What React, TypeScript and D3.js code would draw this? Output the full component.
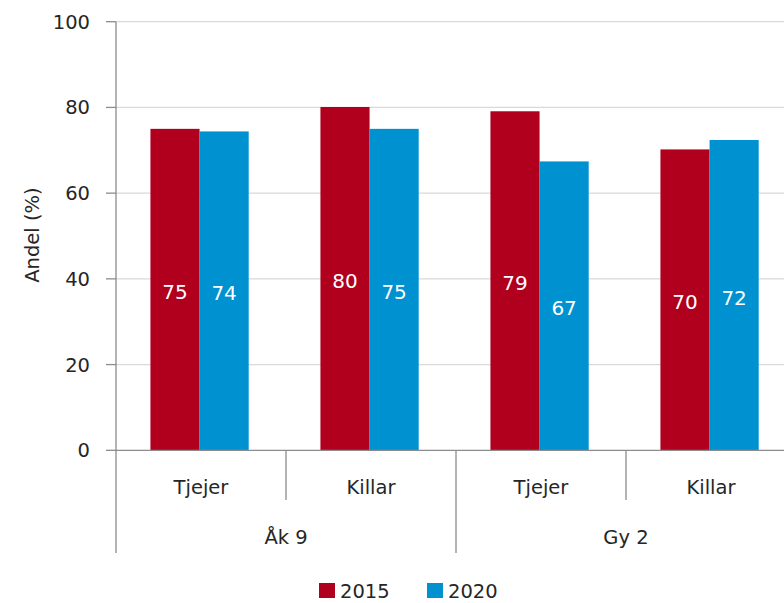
import React from "react";
import * as d3 from "d3";

const categories = ["Tjejer", "Killar", "Tjejer", "Killar"];
const groups = ["Åk 9", "Gy 2"];
const seriesNames = ["2015", "2020"];
const values2015 = [75.0, 80.1, 79.1, 70.2];
const values2020 = [74.4, 75.0, 67.4, 72.4];
const yTicks = [0, 20, 40, 60, 80, 100];

const colors = ["#b0001e", "#0091d0"];
const font = "'DejaVu Sans', Verdana, sans-serif";
const textColor = "#262626";
const axisColor = "#8c8c8c";

export default function App() {
  const W = 784, H = 603;
  const left = 116, top = 21.7, bottom = 450.3;
  const y = d3.scaleLinear().domain([0, 100]).range([bottom, top]);
  const idx = categories.map((_, i) => String(i));
  const x0 = d3.scaleBand().domain(idx).range([left, left + 170 * 4]).paddingInner(0).paddingOuter(0);
  const bw = x0.bandwidth();
  const x1 = d3.scaleBand().domain(seriesNames).range([0, bw]).paddingInner(0).paddingOuter(0.73).align(0.48);
  const series = [values2015, values2020];
  const fs = 19.5;

  return (
    <svg width={W} height={H} style={{ position: "absolute", left: 0, top: 0, background: "#fff" }} fontFamily={font}>
      {yTicks.filter(t => t > 0).map(t => (
        <line key={"g" + t} x1={left} x2={W} y1={y(t)} y2={y(t)} stroke="#d9d9d9" strokeWidth={1.2} />
      ))}
      {series.map((vals, si) =>
        vals.map((v, ci) => {
          const bx = (x0(String(ci)) as number) + (x1(seriesNames[si]) as number);
          const by = y(v);
          const h = y(0) - by;
          return (
            <g key={`b${si}-${ci}`}>
              <rect x={bx} y={by} width={x1.bandwidth()} height={h} fill={colors[si]} />
              <text x={bx + x1.bandwidth() / 2} y={by + h / 2 + 9.5} textAnchor="middle" fill="#fff" fontSize={fs + 0.5}>
                {Math.round(v)}
              </text>
            </g>
          );
        })
      )}
      <line x1={left} x2={left} y1={top} y2={553} stroke={axisColor} strokeWidth={1.3} />
      {yTicks.map(t => (
        <g key={"t" + t}>
          <line x1={left - 10} x2={left} y1={y(t)} y2={y(t)} stroke={axisColor} strokeWidth={1.3} />
          <text x={90} y={y(t) + 7} textAnchor="end" fill={textColor} fontSize={fs}>{t}</text>
        </g>
      ))}
      <text transform={`translate(39,235) rotate(-90)`} textAnchor="middle" fill={textColor} fontSize={fs}>Andel (%)</text>
      <line x1={left} x2={W} y1={y(0)} y2={y(0)} stroke={axisColor} strokeWidth={1.3} />
      {idx.slice(1).map((k, i) => (
        <line key={"s" + k} x1={x0(k) as number} x2={x0(k) as number} y1={y(0)} y2={i === 1 ? 553 : 500} stroke={axisColor} strokeWidth={1.3} />
      ))}
      {categories.map((c, i) => (
        <text key={"c" + i} x={(x0(String(i)) as number) + bw / 2} y={494} textAnchor="middle" fill={textColor} fontSize={fs}>{c}</text>
      ))}
      {groups.map((g, i) => (
        <text key={"gr" + i} x={(x0(String(i * 2)) as number) + bw} y={544} textAnchor="middle" fill={textColor} fontSize={fs}>{g}</text>
      ))}
      {seriesNames.map((s, i) => (
        <g key={"l" + s} transform={`translate(319,583)`}>
          <g transform={`translate(${i * 108},0)`}>
            <rect x={0} y={0} width={16} height={15} fill={colors[i]} />
            <text x={21} y={15} fill={textColor} fontSize={fs}>{s}</text>
          </g>
        </g>
      ))}
    </svg>
  );
}
